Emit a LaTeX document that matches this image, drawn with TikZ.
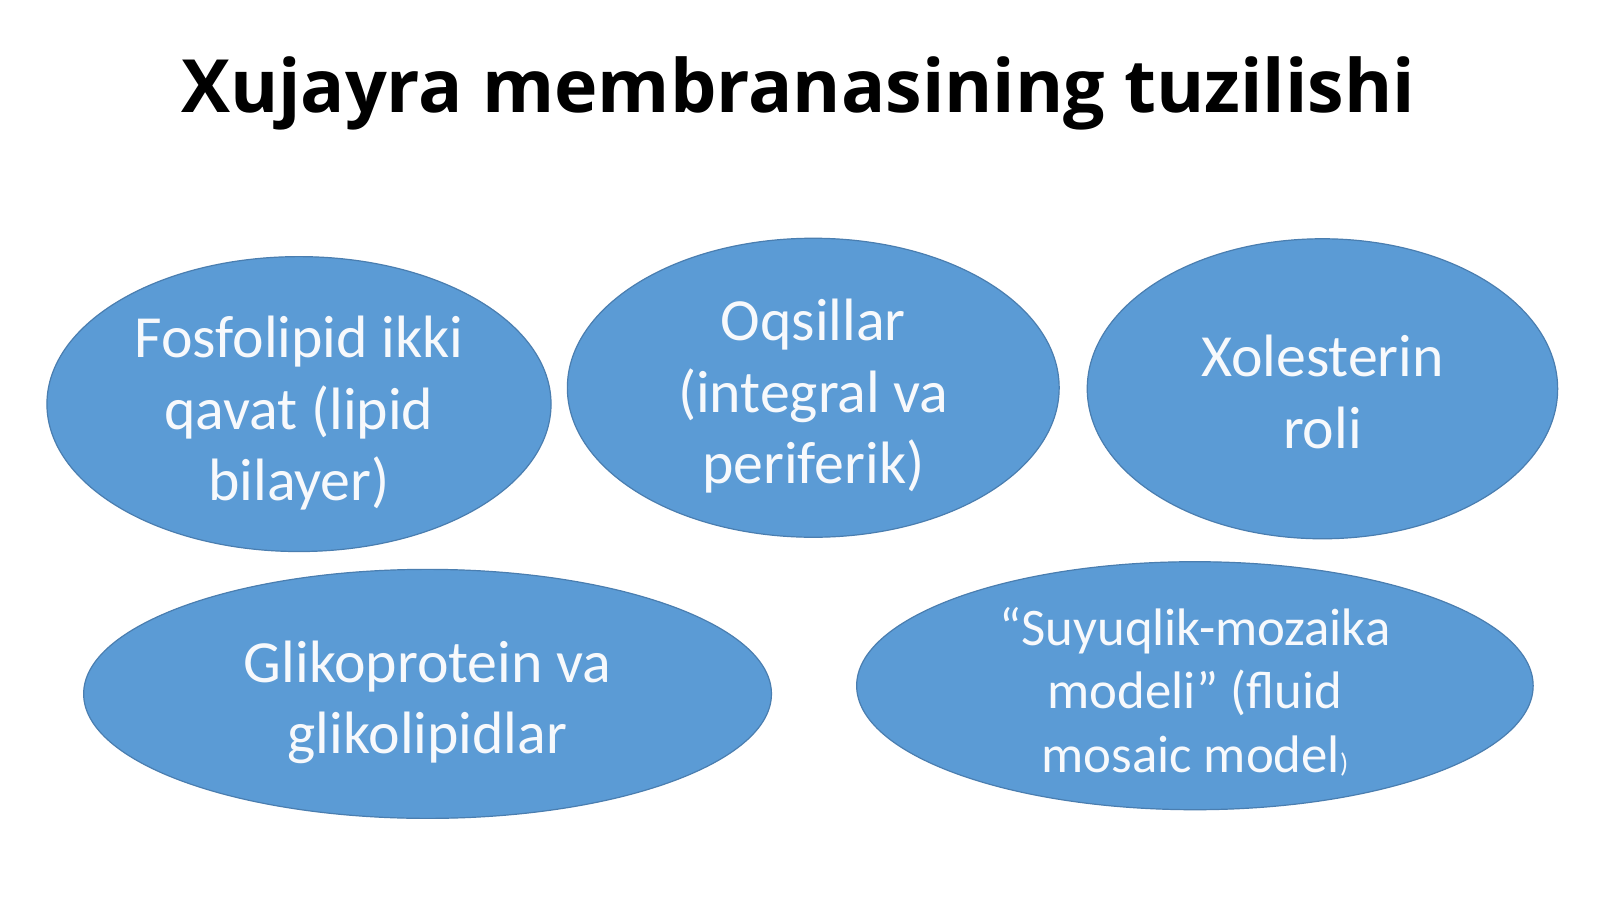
\documentclass[tikz,border=0pt]{standalone}
\usepackage{fontspec}
\setmainfont{Carlito}
\newfontfamily\titlefont{Open Sans}
\usetikzlibrary{shapes.geometric}
\definecolor{ellfill}{HTML}{5B9BD5}
\definecolor{ellline}{HTML}{4A7EB0}
\definecolor{elltext}{HTML}{F7F9FC}
\begin{document}
\begin{tikzpicture}[x=1.0204pt,y=-1.0204pt,
  blob/.style={ellipse,fill=ellfill,draw=ellline,line width=1.2pt,inner sep=0pt},
  blobtext/.style={text=elltext,align=center,font=\fontsize{59.8}{71.4}\selectfont}]
\useasboundingbox[fill=white] (0,0) rectangle (1568,881);
\node[font=\titlefont\bfseries\fontsize{73.5}{80}\selectfont,anchor=base] (title) at (782,110) {Xujayra membranasining tuzilishi};
\node[blob,minimum width=504.1pt,minimum height=294.9pt] (e1) at (293,396) {};
\node[blob,minimum width=491.8pt,minimum height=299pt] (e2) at (797,380) {};
\node[blob,minimum width=470.4pt,minimum height=300pt] (e3) at (1296,381) {};
\node[blob,minimum width=687.8pt,minimum height=249pt] (e4) at (419,680) {};
\node[blob,minimum width=676.5pt,minimum height=248pt] (e5) at (1171,672) {};
\node[blobtext] (t1) at ([yshift=-9.2pt]e1.center) {Fosfolipid ikki\\qavat (lipid\\bilayer)};
\node[blobtext] (t2) at ([yshift=-8.7pt]e2.center) {Oqsillar\\(integral va\\periferik)};
\node[blobtext] (t3) at ([yshift=-3pt]e3.center) {Xolesterin\\roli};
\node[blobtext] (t4) at ([yshift=-8.2pt]e4.center) {Glikoprotein va\\glikolipidlar};
\node[blobtext,font=\fontsize{52.8}{63.8}\selectfont] (t5) at ([yshift=-6pt]e5.center) {“Suyuqlik-mozaika\\modeli” (fluid\\mosaic model{\fontsize{27}{30}\selectfont)}};
\end{tikzpicture}
\end{document}
